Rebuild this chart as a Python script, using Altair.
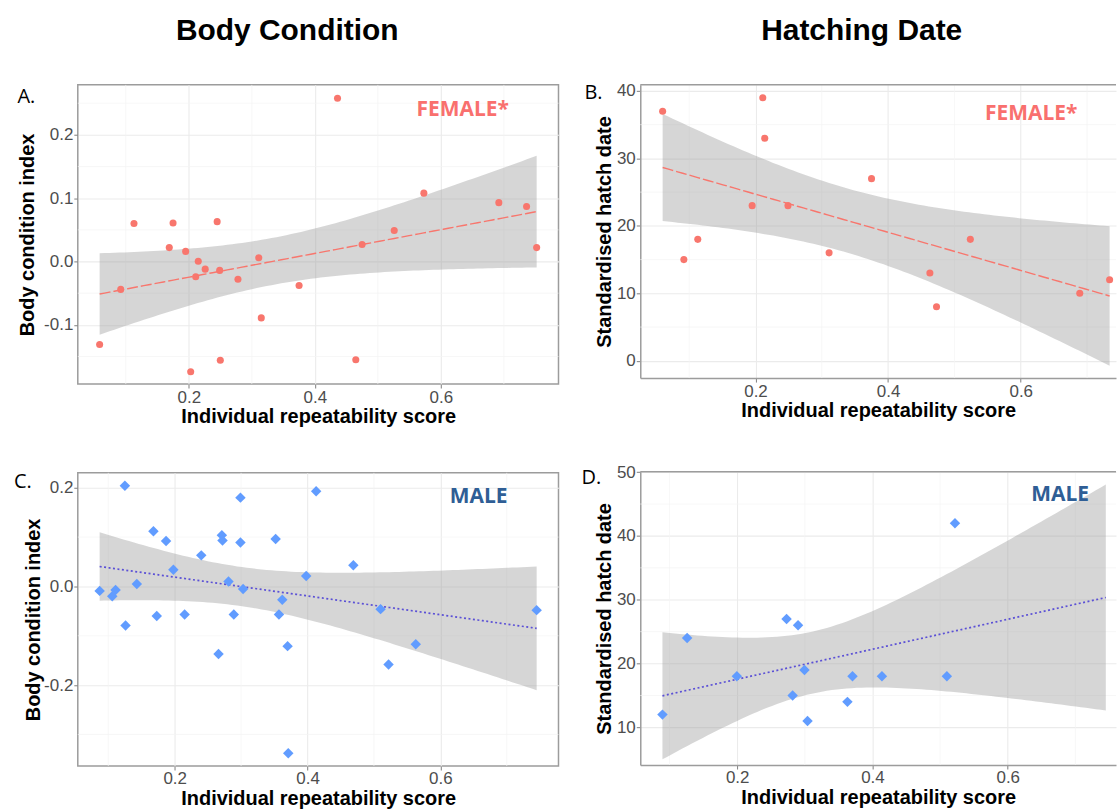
import math
import numpy as np
import pandas as pd
import altair as alt

# ---------------- data ----------------
female_bc_score = [0.0585, 0.092, 0.113, 0.169, 0.175, 0.195, 0.203, 0.211, 0.215, 0.226,
                   0.245, 0.249, 0.250, 0.278, 0.311, 0.315, 0.375, 0.436, 0.465, 0.475,
                   0.526, 0.573, 0.692, 0.736, 0.752]
female_bc = [-0.131, -0.044, 0.060, 0.022, 0.061, 0.016, -0.174, -0.024, 0.0005, -0.012,
             0.063, -0.014, -0.156, -0.028, 0.006, -0.089, -0.038, 0.258, -0.155, 0.027,
             0.049, 0.108, 0.093, 0.087, 0.022]

female_hd_score = [0.060, 0.092, 0.113, 0.195, 0.211, 0.214, 0.249, 0.311, 0.375, 0.463,
                   0.473, 0.524, 0.689, 0.734]
female_hd = [37, 15, 18, 23, 39, 33, 23, 16, 27, 13, 8, 18, 10, 12]

male_bc_score = [0.087, 0.106, 0.111, 0.125, 0.126, 0.143, 0.168, 0.173, 0.187, 0.198,
                 0.215, 0.240, 0.266, 0.271, 0.272, 0.281, 0.289, 0.299, 0.299, 0.303,
                 0.352, 0.357, 0.362, 0.370, 0.371, 0.398, 0.413, 0.469, 0.510, 0.522,
                 0.563, 0.745]
male_bc = [-0.009, -0.020, -0.007, 0.204, -0.079, 0.005, 0.112, -0.060, 0.092, 0.034,
           -0.057, 0.063, -0.137, 0.104, 0.093, 0.010, -0.057, 0.180, 0.089, -0.005,
           0.096, -0.057, -0.027, -0.121, -0.338, 0.021, 0.193, 0.043, -0.046, -0.158,
           -0.117, -0.048]

male_hd_score = [0.0895, 0.126, 0.1995, 0.273, 0.282, 0.290, 0.2995, 0.304, 0.363, 0.3705,
                 0.414, 0.510, 0.522, 0.745]
male_hd = [12, 24, 18, 27, 15, 26, 19, 11, 14, 18, 18, 18, 42, None]  # last: no hatch date

x_ticks = [0.2, 0.4, 0.6]
x_minor = [0.1, 0.3, 0.5, 0.7]
bc_f_ticks = [-0.1, 0.0, 0.1, 0.2]
bc_f_minor = [-0.15, -0.05, 0.05, 0.15, 0.25]
hd_f_ticks = [0, 10, 20, 30, 40]
hd_f_minor = [5, 15, 25, 35]
bc_m_ticks = [-0.2, 0.0, 0.2]
bc_m_minor = [-0.3, -0.1, 0.1]
hd_m_ticks = [10, 20, 30, 40, 50]
hd_m_minor = [15, 25, 35, 45]

# y-axis limits
bc_f_limits = [-0.1935, 0.279]
hd_f_limits = [-2.56, 40.9]
bc_m_limits = [-0.364, 0.2303]
hd_m_limits = [4.1, 50.05]


# ---------------- linear fit with 95% confidence band (like geom_smooth(method=lm)) ----------------
def t975(df):
    c = math.gamma((df + 1) / 2) / (math.sqrt(df * math.pi) * math.gamma(df / 2))

    def cdf(t):
        u = np.linspace(0.0, t, 4001)
        f = c * (1 + u * u / df) ** (-(df + 1) / 2)
        return 0.5 + np.trapezoid(f, u)

    lo, hi = 0.0, 20.0
    for _ in range(60):
        mid = (lo + hi) / 2
        if cdf(mid) < 0.975:
            lo = mid
        else:
            hi = mid
    return (lo + hi) / 2


def lm_band(xs, ys, n_grid=90):
    x = np.array([a for a, b in zip(xs, ys) if b is not None], float)
    y = np.array([b for b in ys if b is not None], float)
    n = len(x)
    xm = x.mean()
    sxx = ((x - xm) ** 2).sum()
    b1 = ((x - xm) * (y - y.mean())).sum() / sxx
    b0 = y.mean() - b1 * xm
    s = math.sqrt(((y - (b0 + b1 * x)) ** 2).sum() / (n - 2))
    tq = t975(n - 2)
    gx = np.linspace(min(xs), max(xs), n_grid)
    fit = b0 + b1 * gx
    se = s * np.sqrt(1.0 / n + (gx - xm) ** 2 / sxx)
    return pd.DataFrame({"x": gx, "fit": fit, "lo": fit - tq * se, "hi": fit + tq * se})


def expand(lo, hi, f=0.05):
    r = hi - lo
    return lo - f * r, hi + f * r


FONT = "Liberation Sans"
GRID = "#EBEBEB"
MINOR = "#F4F4F4"
BORDER = "#9C9C9C"


def neg_expr(fmt):
    return ("datum.value < 0 ? '-' + format(-datum.value, '%s') : format(datum.value, '%s')"
            % (fmt, fmt))


def spacer_x(v):
    return alt.Chart(pd.DataFrame({"a": [0]})).mark_rule(strokeOpacity=0).encode(x=alt.value(v))


def spacer_y(v):
    return alt.Chart(pd.DataFrame({"a": [0]})).mark_rule(strokeOpacity=0).encode(y=alt.value(v))


def panel(xs, ys, *, width, full_width, height, y_limits, y_ticks, y_minor, y_fmt, y_title,
          y_title_pad, pt_color, pt_shape, pt_size, ln_color, ln_dash, ln_width,
          sex, sex_color, sex_xy, letter, letter_xy, left_ext, top_ext, bottom_ext=None,
          heading=None, heading_x=0, open_right=False):
    band = lm_band(xs, ys)
    xlo, xhi = expand(min(xs), max(xs))
    if open_right:
        # the panel runs past the right edge of the figure: keep only the visible part
        xhi = xlo + (xhi - xlo) * width / full_width

    xsc = alt.Scale(domain=[xlo, xhi], nice=False, zero=False)
    ysc = alt.Scale(domain=y_limits, nice=False, zero=False)
    xax = alt.Axis(values=x_ticks, format=".1f", title="Individual repeatability score",
                   grid=True, gridColor=GRID, gridWidth=1.1,
                   tickColor="#8A8A8A", tickSize=4, tickWidth=1.1,
                   labelFont=FONT, labelFontSize=17, labelColor="#4D4D4D", labelPadding=1,
                   titleFont=FONT, titleFontSize=20, titleFontWeight="bold",
                   titleColor="black", titlePadding=2,
                   domain=open_right, domainColor=BORDER, domainWidth=1.5)
    yax = alt.Axis(values=y_ticks, labelExpr=neg_expr(y_fmt), title=y_title,
                   grid=True, gridColor=GRID, gridWidth=1.1,
                   tickColor="#8A8A8A", tickSize=4, tickWidth=1.1,
                   labelFont=FONT, labelFontSize=17, labelColor="#4D4D4D", labelPadding=1,
                   titleFont=FONT, titleFontSize=20, titleFontWeight="bold",
                   titleColor="black", titlePadding=y_title_pad,
                   domain=open_right, domainColor=BORDER, domainWidth=1.5)

    def X(f):
        return alt.X(f, type="quantitative", scale=xsc, axis=xax)

    def Y(f):
        return alt.Y(f, type="quantitative", scale=ysc, axis=yax)

    pts = pd.DataFrame({"x": xs, "y": ys}).dropna()

    layers = [
        alt.Chart(pd.DataFrame({"x": x_minor})).mark_rule(color=MINOR, strokeWidth=0.7)
        .encode(x=X("x")),
        alt.Chart(pd.DataFrame({"y": y_minor})).mark_rule(color=MINOR, strokeWidth=0.7)
        .encode(y=Y("y")),
        alt.Chart(band).mark_area(color="#999999", opacity=0.4, clip=True)
        .encode(x=X("x"), y=Y("lo"), y2=alt.Y2("hi")),
        alt.Chart(band).mark_line(color=ln_color, strokeDash=ln_dash, strokeWidth=ln_width,
                                  clip=True)
        .encode(x=X("x"), y=Y("fit")),
        alt.Chart(pts).mark_point(filled=True, shape=pt_shape, size=pt_size, color=pt_color,
                                  opacity=1)
        .encode(x=X("x"), y=Y("y")),
        alt.Chart(pd.DataFrame({"t": [sex]})).mark_text(
            font="Open Sans", fontWeight="bold", fontSize=21, color=sex_color,
            align="center", baseline="middle")
        .encode(x=alt.value(sex_xy[0]), y=alt.value(sex_xy[1]), text="t:N"),
        alt.Chart(pd.DataFrame({"t": [letter]})).mark_text(
            font="Open Sans", fontSize=20, color="black", align="left",
            baseline="alphabetic")
        .encode(x=alt.value(letter_xy[0]), y=alt.value(letter_xy[1]), text="t:N"),
        spacer_x(-left_ext),
        spacer_y(-top_ext),
    ]
    if bottom_ext is not None:
        layers.append(spacer_y(height + bottom_ext))
    if heading:
        layers.append(
            alt.Chart(pd.DataFrame({"t": [heading]})).mark_text(
                font=FONT, fontWeight="bold", fontSize=30, color="black",
                align="center", baseline="alphabetic")
            .encode(x=alt.value(heading_x), y=alt.value(-45), text="t:N"))
    if open_right:
        layers.append(
            alt.Chart(pd.DataFrame({"a": [0]})).mark_rule(color=BORDER, strokeWidth=1.5)
            .encode(y=alt.value(0)))
        view = alt.ViewBackground(strokeOpacity=0)
    else:
        view = alt.ViewBackground(stroke=BORDER, strokeWidth=1.5)
    return alt.layer(*layers).properties(width=width, height=height, view=view)


FEM_PT = "#F8766D"
MAL_PT = "#619CFF"
MALE_LINE = "#5B50D6"

# both left-hand panels share the same left extent and width, both right-hand ones too,
# so the grid places them identically whatever the alignment rule
LEFT1, W1 = 71.5, 482
LEFT2, W2 = 69.5, 477

A = panel(female_bc_score, female_bc, width=W1, full_width=W1, height=300,
          y_limits=bc_f_limits, y_ticks=bc_f_ticks, y_minor=bc_f_minor, y_fmt=".1f",
          y_title="Body condition index", y_title_pad=6,
          pt_color=FEM_PT, pt_shape="circle", pt_size=50, ln_color=FEM_PT, ln_dash=[11, 3],
          ln_width=1.4, sex="FEMALE*", sex_color="#F9706E", sex_xy=(386, 25),
          letter="A.", letter_xy=(-60.5, 18), left_ext=LEFT1, top_ext=76, bottom_ext=53,
          heading="Body Condition", heading_x=210)

B = panel(female_hd_score, female_hd, width=W2, full_width=493, height=294,
          y_limits=hd_f_limits, y_ticks=hd_f_ticks, y_minor=hd_f_minor, y_fmt="d",
          y_title="Standardised hatch date", y_title_pad=2,
          pt_color=FEM_PT, pt_shape="circle", pt_size=50, ln_color=FEM_PT, ln_dash=[11, 3],
          ln_width=1.4, sex="FEMALE*", sex_color="#F9706E", sex_xy=(392, 29),
          letter="B.", letter_xy=(-56, 14), left_ext=LEFT2, top_ext=76, bottom_ext=59,
          heading="Hatching Date", heading_x=222, open_right=True)

C = panel(male_bc_score, male_bc, width=W1, full_width=W1, height=294,
          y_limits=bc_m_limits, y_ticks=bc_m_ticks, y_minor=bc_m_minor, y_fmt=".1f",
          y_title="Body condition index", y_title_pad=0,
          pt_color=MAL_PT, pt_shape="diamond", pt_size=110, ln_color=MALE_LINE,
          ln_dash=[2, 2.5], ln_width=1.7, sex="MALE", sex_color="#2F5E95", sex_xy=(402, 24),
          letter="C.", letter_xy=(-64, 15), left_ext=LEFT1, top_ext=24)

D = panel(male_hd_score, male_hd, width=W2, full_width=489, height=294,
          y_limits=hd_m_limits, y_ticks=hd_m_ticks, y_minor=hd_m_minor, y_fmt="d",
          y_title="Standardised hatch date", y_title_pad=2,
          pt_color=MAL_PT, pt_shape="diamond", pt_size=110, ln_color=MALE_LINE,
          ln_dash=[2, 2.5], ln_width=1.7, sex="MALE", sex_color="#2F5E95", sex_xy=(421, 23),
          letter="D.", letter_xy=(-59, 12), left_ext=LEFT2, top_ext=24, open_right=True)

chart = (
    alt.concat(A, B, C, D, columns=2, align="none", spacing=10)
    .properties(padding={"left": 5, "top": 7, "right": 0, "bottom": 0})
    .configure(background="white")
)

chart.save("out.html", embed_options={"renderer": "svg", "actions": False})
